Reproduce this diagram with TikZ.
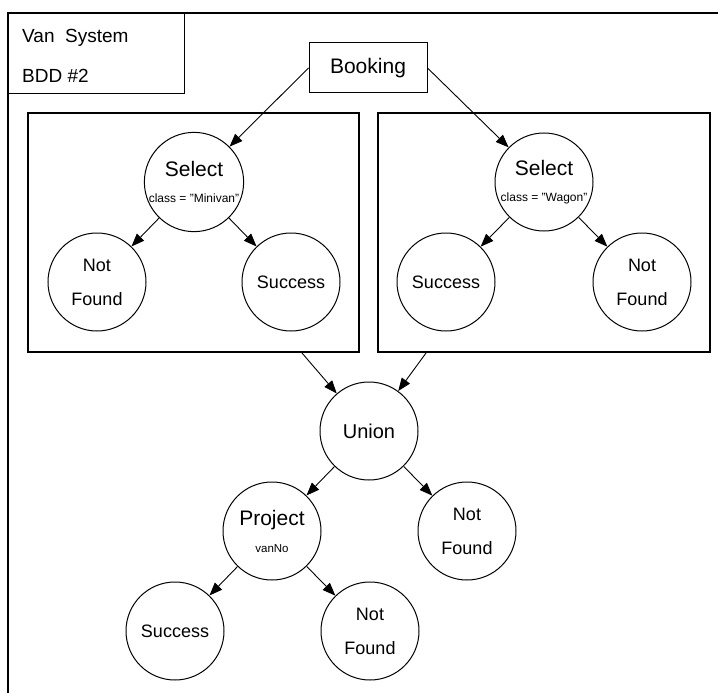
\documentclass[tikz,border=0pt]{standalone}
\usepackage{fontspec}
\setmainfont{Liberation Sans}
\usetikzlibrary{arrows.meta,calc}
\begin{document}
\begin{tikzpicture}[x=1pt,y=-1pt,
  state/.style={circle,draw,line width=1pt,minimum size=98pt,inner sep=0pt,align=center,
    font=\fontsize{18}{34}\selectfont},
  opnode/.style={state,font=\fontsize{12}{26}\selectfont},
  link/.style={line width=0.9pt,-{Triangle[length=13pt,width=10pt]}},
  group/.style={draw,line width=1.8pt,inner sep=0pt},
  label/.style={anchor=west,inner sep=0pt,font=\fontsize{19}{19}\selectfont}]
\useasboundingbox (0,0) rectangle (718,693);
\fill[white] (0,0) rectangle (718,693);

% page frame and title block
\draw[line width=1.3pt] (8,693) -- (8,13) -- (718,13);
\node[draw,line width=1.3pt,inner sep=0pt,minimum width=176pt,minimum height=80pt,anchor=north west] (title) at (8,13) {};
\node[label] (name) at (22,38) {Van\ \ System};
\node[label] (bdd) at (22,75.5) {BDD \#2};

% source relation
\node[draw,line width=1pt,minimum width=118pt,minimum height=50pt,inner sep=0pt,
  font=\fontsize{21}{21}\selectfont] (book) at (368,68) {Booking};

% grouping boxes
\node[group,minimum width=331pt,minimum height=239pt] (box1) at (193.5,232.5) {};
\node[group,minimum width=332pt,minimum height=239pt] (box2) at (544,232.5) {};

% left selection
\node[opnode] (sel1) at (194,182) {{\fontsize{21}{26}\selectfont Select}\\class = "Minivan"};
\node[state] (nf1) at (97,282) {Not\\Found};
\node[state] (ok1) at (291,282) {Success};

% right selection
\node[opnode] (sel2) at (544,182) {{\fontsize{21}{26}\selectfont Select}\\class = "Wagon"};
\node[state] (ok2) at (446,282) {Success};
\node[state] (nf2) at (642,282) {Not\\Found};

% union and projection
\node[state,font=\fontsize{20}{20}\selectfont] (union) at (369,431) {Union};
\node[opnode,font=\fontsize{11.5}{27}\selectfont] (proj) at (272,531) {{\fontsize{21}{27}\selectfont Project}\\vanNo};
\node[state] (nf3) at (467,531) {Not\\Found};
\node[state] (ok3) at (175,631) {Success};
\node[state] (nf4) at (370,631) {Not\\Found};

\coordinate (out1) at ($(box1.south east)+(-58,0)$);
\coordinate (out2) at ($(box2.south west)+(49,0)$);

% connectors
\draw[link] (book.west) -- (sel1);
\draw[link] (book.east) -- (sel2);
\draw[link] (sel1) -- (nf1);
\draw[link] (sel1) -- (ok1);
\draw[link] (sel2) -- (ok2);
\draw[link] (sel2) -- (nf2);
\draw[link] (out1) -- (union);
\draw[link] (out2) -- (union);
\draw[link] (union) -- (proj);
\draw[link] (union) -- (nf3);
\draw[link] (proj) -- (ok3);
\draw[link] (proj) -- (nf4);
\end{tikzpicture}
\end{document}
